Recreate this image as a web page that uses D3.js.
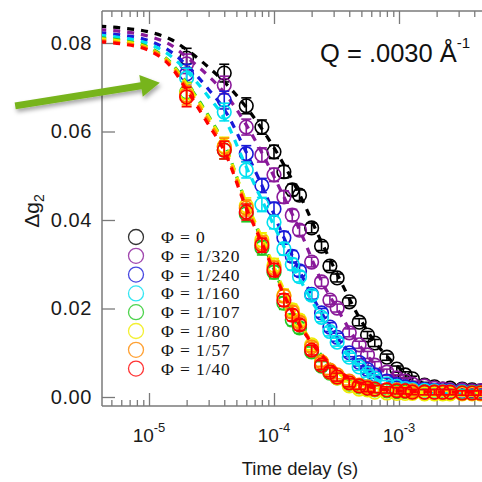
<!DOCTYPE html>
<html><head><meta charset="utf-8">
<script src="https://cdn.jsdelivr.net/npm/d3@7"></script>
<style>body{margin:0;background:#fff}svg{display:block}</style>
</head><body>
<script>
// ---------- DATA ----------
const phiLabels = ["Φ = 0","Φ = 1/320","Φ = 1/240","Φ = 1/160","Φ = 1/107","Φ = 1/80","Φ = 1/57","Φ = 1/40"];
const colors = ["#000000","#8a1a9a","#1a1ad8","#00e0f0","#22c822","#f0ec00","#ff8a00","#ff0000"];
const times = [2e-5,4e-5,6e-5,8e-5,1e-4,1.2e-4,1.4e-4,1.6e-4,2e-4,2.4e-4,2.8e-4,3.2e-4,4e-4,4.8e-4,5.6e-4,6.4e-4,8e-4,9.6e-4,1.12e-3,1.28e-3,1.6e-3,1.92e-3,2.24e-3,2.56e-3,3.2e-3,3.84e-3,4.48e-3];
const errBars = [0.0022,0.0020,0.0018,0.0016,0.0015,0.0014,0.0013,0.0012,0.0011,0.0010,0.0010,0.0009,0.0009,0.0008,0.0008,0.0008,0.0007,0.0007,0.0007,0.0006,0.0006,0.0006,0.0006,0.0006,0.0005,0.0005,0.0005];
const g2_phi0   = [0.0766,0.0732,0.0658,0.0610,0.0554,0.0509,0.0468,0.0456,0.0382,0.0341,0.0296,0.0269,0.0215,0.0169,0.0140,0.0122,0.0090,0.0063,0.0050,0.0041,0.0027,0.0023,0.0018,0.0020,0.0018,0.0016,0.0014];
const g2_phi320 = [0.0753,0.0705,0.0610,0.0547,0.0502,0.0452,0.0411,0.0377,0.0305,0.0260,0.0219,0.0201,0.0145,0.0118,0.0095,0.0072,0.0056,0.0043,0.0036,0.0029,0.0025,0.0020,0.0018,0.0016,0.0016,0.0014,0.0014];
const g2_phi240 = [0.0730,0.0671,0.0550,0.0478,0.0425,0.0360,0.0318,0.0285,0.0232,0.0190,0.0158,0.0135,0.0100,0.0078,0.0062,0.0050,0.0036,0.0028,0.0023,0.0020,0.0017,0.0015,0.0014,0.0014,0.0012,0.0011,0.0011];
const g2_phi160 = [0.0721,0.0644,0.0513,0.0435,0.0395,0.0335,0.0300,0.0272,0.0230,0.0180,0.0148,0.0124,0.0090,0.0068,0.0053,0.0042,0.0030,0.0024,0.0019,0.0017,0.0015,0.0014,0.0012,0.0012,0.0011,0.0010,0.0010];
const g2_phi107 = [0.0689,0.0558,0.0414,0.0337,0.0282,0.0212,0.0174,0.0156,0.0102,0.0070,0.0054,0.0043,0.0029,0.0023,0.0018,0.0016,0.0014,0.0012,0.0012,0.0011,0.0011,0.0011,0.0010,0.0010,0.0010,0.0010,0.0010];
const g2_phi80  = [0.0687,0.0567,0.0432,0.0355,0.0298,0.0230,0.0197,0.0174,0.0118,0.0079,0.0056,0.0043,0.0025,0.0018,0.0016,0.0011,0.0009,0.0008,0.0008,0.0008,0.0007,0.0007,0.0007,0.0007,0.0007,0.0007,0.0007];
const g2_phi57  = [0.0682,0.0565,0.0427,0.0348,0.0292,0.0228,0.0192,0.0169,0.0113,0.0079,0.0061,0.0050,0.0036,0.0027,0.0023,0.0018,0.0016,0.0016,0.0014,0.0014,0.0011,0.0011,0.0011,0.0011,0.0009,0.0009,0.0009];
const g2_phi40  = [0.0678,0.0558,0.0418,0.0343,0.0287,0.0219,0.0185,0.0163,0.0106,0.0072,0.0056,0.0045,0.0032,0.0025,0.0020,0.0018,0.0016,0.0014,0.0014,0.0011,0.0011,0.0011,0.0011,0.0011,0.0009,0.0009,0.0009];
// fitted curves (dashed)
const fitTimes = [4e-6,6e-6,1e-5,1.5e-5,2e-5,3e-5,4e-5,6e-5,8e-5,1.2e-4,1.6e-4,2.4e-4,3.2e-4,4.8e-4,6.4e-4,1e-3,1.5e-3,2.5e-3,5e-3];
const fit_phi0   = [0.0838,0.0834,0.0825,0.0808,0.0785,0.0745,0.0712,0.0655,0.0606,0.0525,0.0458,0.0350,0.0278,0.0180,0.0125,0.0066,0.0033,0.0018,0.0013];
const fit_phi320 = [0.0830,0.0826,0.0815,0.0795,0.0768,0.0725,0.0688,0.0615,0.0552,0.0452,0.0378,0.0262,0.0200,0.0118,0.0074,0.0040,0.0024,0.0016,0.0013];
const fit_phi240 = [0.0823,0.0818,0.0805,0.0780,0.0750,0.0695,0.0650,0.0553,0.0478,0.0360,0.0285,0.0190,0.0135,0.0078,0.0050,0.0027,0.0018,0.0014,0.0012];
const fit_phi160 = [0.0818,0.0812,0.0798,0.0770,0.0737,0.0678,0.0630,0.0520,0.0445,0.0340,0.0268,0.0180,0.0124,0.0068,0.0042,0.0024,0.0016,0.0012,0.0011];
const fit_phi107 = [0.0812,0.0806,0.0790,0.0755,0.0710,0.0635,0.0572,0.0438,0.0355,0.0236,0.0165,0.0094,0.0060,0.0030,0.0019,0.0013,0.0011,0.0010,0.0010];
const fit_phi80  = [0.0810,0.0804,0.0788,0.0753,0.0707,0.0632,0.0570,0.0440,0.0360,0.0242,0.0170,0.0092,0.0056,0.0025,0.0016,0.0011,0.0010,0.0009,0.0009];
const fit_phi57  = [0.0806,0.0800,0.0786,0.0750,0.0700,0.0623,0.0562,0.0432,0.0352,0.0235,0.0166,0.0097,0.0062,0.0033,0.0020,0.0014,0.0012,0.0011,0.0011];
const fit_phi40  = [0.0803,0.0798,0.0783,0.0746,0.0694,0.0615,0.0556,0.0427,0.0348,0.0231,0.0163,0.0095,0.0061,0.0032,0.0020,0.0014,0.0012,0.0011,0.0011];
const yTickValues = [0, 0.02, 0.04, 0.06, 0.08];
const xMajorTicks = [1e-5, 1e-4, 1e-3];
const xMajorExp = ["-5", "-4", "-3"];
const titleMain = "Q = .0030 Å";
const titleSup = "-1";
const xLabel = "Time delay (s)";
const arrowTail = {t: 8.5e-7, v: 0.0658};
const arrowTip  = {t: 1.22e-5, v: 0.0710};

const seriesData = [g2_phi0,g2_phi320,g2_phi240,g2_phi160,g2_phi107,g2_phi80,g2_phi57,g2_phi40];
const fitData = [fit_phi0,fit_phi320,fit_phi240,fit_phi160,fit_phi107,fit_phi80,fit_phi57,fit_phi40];

// ---------- LAYOUT ----------
const W = 482, H = 482;
const plotL = 102, plotR = 490, plotT = 11, plotB = 406;
const x = d3.scaleLog().domain([1e-5, 1e-3]).range([149, 399]);
const y = d3.scaleLinear().domain([0, 0.08]).range([397, 43]);
const axisColor = "#7a7a7a";

const svg = d3.select("body").append("svg").attr("width", W).attr("height", H);
const defs = svg.append("defs");
defs.append("clipPath").attr("id", "clip").append("rect")
  .attr("x", plotL).attr("y", plotT).attr("width", plotR - plotL).attr("height", plotB - plotT);
const f = defs.append("filter").attr("id", "shadow").attr("x", "-20%").attr("y", "-50%").attr("width", "140%").attr("height", "200%");
f.append("feDropShadow").attr("dx", 1.5).attr("dy", 3).attr("stdDeviation", 2).attr("flood-color", "#000").attr("flood-opacity", 0.35);

// ---------- AXES ----------
const xAxisScale = x.copy();
const lo = x.invert(plotL), hi = x.invert(W);
const allTicks = d3.scaleLog().domain([lo, hi]).ticks().filter(t => t >= lo && t <= hi);
const minorTicks = allTicks.filter(t => !xMajorTicks.some(m => Math.abs(m - t) / m < 1e-6));

function styleAxis(g) {
  g.select(".domain").remove();
  g.selectAll(".tick line").attr("stroke", axisColor).attr("stroke-width", 1.3);
}
// bottom
svg.append("g").attr("transform", `translate(0,${plotB})`)
  .call(d3.axisBottom(xAxisScale).tickValues(minorTicks).tickSize(-6).tickFormat(""))
  .call(styleAxis);
svg.append("g").attr("transform", `translate(0,${plotB})`)
  .call(d3.axisBottom(xAxisScale).tickValues(xMajorTicks).tickSize(-13).tickFormat(""))
  .call(styleAxis);
// top
svg.append("g").attr("transform", `translate(0,${plotT})`)
  .call(d3.axisTop(xAxisScale).tickValues(minorTicks).tickSize(-6).tickFormat(""))
  .call(styleAxis);
svg.append("g").attr("transform", `translate(0,${plotT})`)
  .call(d3.axisTop(xAxisScale).tickValues(xMajorTicks).tickSize(-13).tickFormat(""))
  .call(styleAxis);
// left
const yAxisG = svg.append("g").attr("transform", `translate(${plotL},0)`)
  .call(d3.axisLeft(y).tickValues(yTickValues).tickSize(-13).tickPadding(10).tickFormat(d3.format(".2f")))
  .call(styleAxis);
yAxisG.selectAll(".tick text").attr("font-family", "Liberation Sans, Arial, sans-serif")
  .attr("font-size", 20).attr("fill", "#1a1a1a").style("letter-spacing", "0.6px");
// frame lines
svg.append("line").attr("x1", plotL).attr("x2", plotL).attr("y1", plotT).attr("y2", plotB).attr("stroke", axisColor).attr("stroke-width", 1.5);
svg.append("line").attr("x1", plotL).attr("x2", W).attr("y1", plotB).attr("y2", plotB).attr("stroke", axisColor).attr("stroke-width", 1.5);
svg.append("line").attr("x1", plotL).attr("x2", W).attr("y1", plotT).attr("y2", plotT).attr("stroke", axisColor).attr("stroke-width", 1.5);

// x labels with superscripts
xMajorTicks.forEach((t, i) => {
  const txt = svg.append("text").attr("x", x(t)).attr("y", 442)
    .attr("text-anchor", "middle").attr("font-family", "Liberation Sans, Arial, sans-serif")
    .attr("font-size", 19).attr("fill", "#1a1a1a");
  txt.append("tspan").text("10");
  txt.append("tspan").attr("dy", -10).attr("font-size", 13).text(xMajorExp[i]);
});
svg.append("text").attr("x", 300).attr("y", 475).attr("text-anchor", "middle")
  .attr("font-family", "Liberation Sans, Arial, sans-serif").attr("font-size", 18.5).attr("fill", "#1a1a1a").text(xLabel);

// y label
const yl = svg.append("text").attr("transform", "translate(39,211) rotate(-90)").attr("text-anchor", "middle")
  .attr("font-family", "Liberation Sans, Arial, sans-serif").attr("font-size", 21).attr("fill", "#1a1a1a");
yl.append("tspan").text("Δg");
yl.append("tspan").attr("dy", 5).attr("font-size", 14).text("2");

// title
const tt = svg.append("text").attr("x", 320).attr("y", 62)
  .attr("font-family", "Liberation Sans, Arial, sans-serif").attr("font-size", 25.5).attr("fill", "#111");
tt.append("tspan").text(titleMain);
tt.append("tspan").attr("dy", -14).attr("font-size", 15).text(titleSup);

// ---------- DATA MARKS ----------
const plot = svg.append("g").attr("clip-path", "url(#clip)");
const line = d3.line().x(d => x(d[0])).y(d => y(d[1])).curve(d3.curveMonotoneX);
seriesData.forEach((vals, si) => {
  const c = colors[si];
  const gS = plot.append("g");
  gS.append("path").datum(fitTimes.map((t, i) => [t, fitData[si][i]]))
    .attr("d", line).attr("fill", "none").attr("stroke", c).attr("stroke-width", 3.2)
    .attr("stroke-dasharray", "7,7");
  const pts = gS.selectAll(".pt").data(times.map((t, i) => ({t, v: vals[i], e: errBars[i]})))
    .enter().append("g");
  pts.append("circle").attr("cx", d => x(d.t)).attr("cy", d => y(d.v)).attr("r", 6.8)
    .attr("fill", "none").attr("stroke", c).attr("stroke-width", 1.6);
  pts.append("line").attr("x1", d => x(d.t)).attr("x2", d => x(d.t))
    .attr("y1", d => y(d.v + d.e)).attr("y2", d => y(d.v - d.e)).attr("stroke", c).attr("stroke-width", 1.6);
  pts.append("line").attr("x1", d => x(d.t) - 5).attr("x2", d => x(d.t) + 5)
    .attr("y1", d => y(d.v + d.e)).attr("y2", d => y(d.v + d.e)).attr("stroke", c).attr("stroke-width", 1.6);
  pts.append("line").attr("x1", d => x(d.t) - 5).attr("x2", d => x(d.t) + 5)
    .attr("y1", d => y(d.v - d.e)).attr("y2", d => y(d.v - d.e)).attr("stroke", c).attr("stroke-width", 1.6);
});

// ---------- LEGEND ----------
const leg = svg.append("g");
phiLabels.forEach((lab, i) => {
  const yy = 237 + i * 18.8;
  leg.append("circle").attr("cx", 136).attr("cy", yy).attr("r", 7.5)
    .attr("fill", "none").attr("stroke", colors[i]).attr("stroke-width", 1.3).attr("opacity", 0.8);
  leg.append("text").attr("x", 161).attr("y", yy + 6)
    .attr("font-family", "Liberation Serif, Times New Roman, serif").attr("font-size", 17.5)
    .style("letter-spacing", "0.9px")
    .attr("fill", "#111").text(lab);
});

// ---------- ARROW ----------
(function () {
  const x0 = x(arrowTail.t), y0 = y(arrowTail.v), x1 = x(arrowTip.t), y1 = y(arrowTip.v);
  const ang = Math.atan2(y1 - y0, x1 - x0);
  const len = Math.hypot(x1 - x0, y1 - y0);
  const hw = 3.5, headL = 19, headW = 11;
  const pts = [[0, -hw], [len - headL, -hw], [len - headL, -headW], [len, 0], [len - headL, headW], [len - headL, hw], [0, hw]];
  const ca = Math.cos(ang), sa = Math.sin(ang);
  const poly = pts.map(p => [x0 + p[0] * ca - p[1] * sa, y0 + p[0] * sa + p[1] * ca]);
  svg.append("path").attr("d", "M" + poly.map(p => p.join(",")).join("L") + "Z")
    .attr("fill", "#77b41c").attr("filter", "url(#shadow)");
})();
</script>
</body></html>
